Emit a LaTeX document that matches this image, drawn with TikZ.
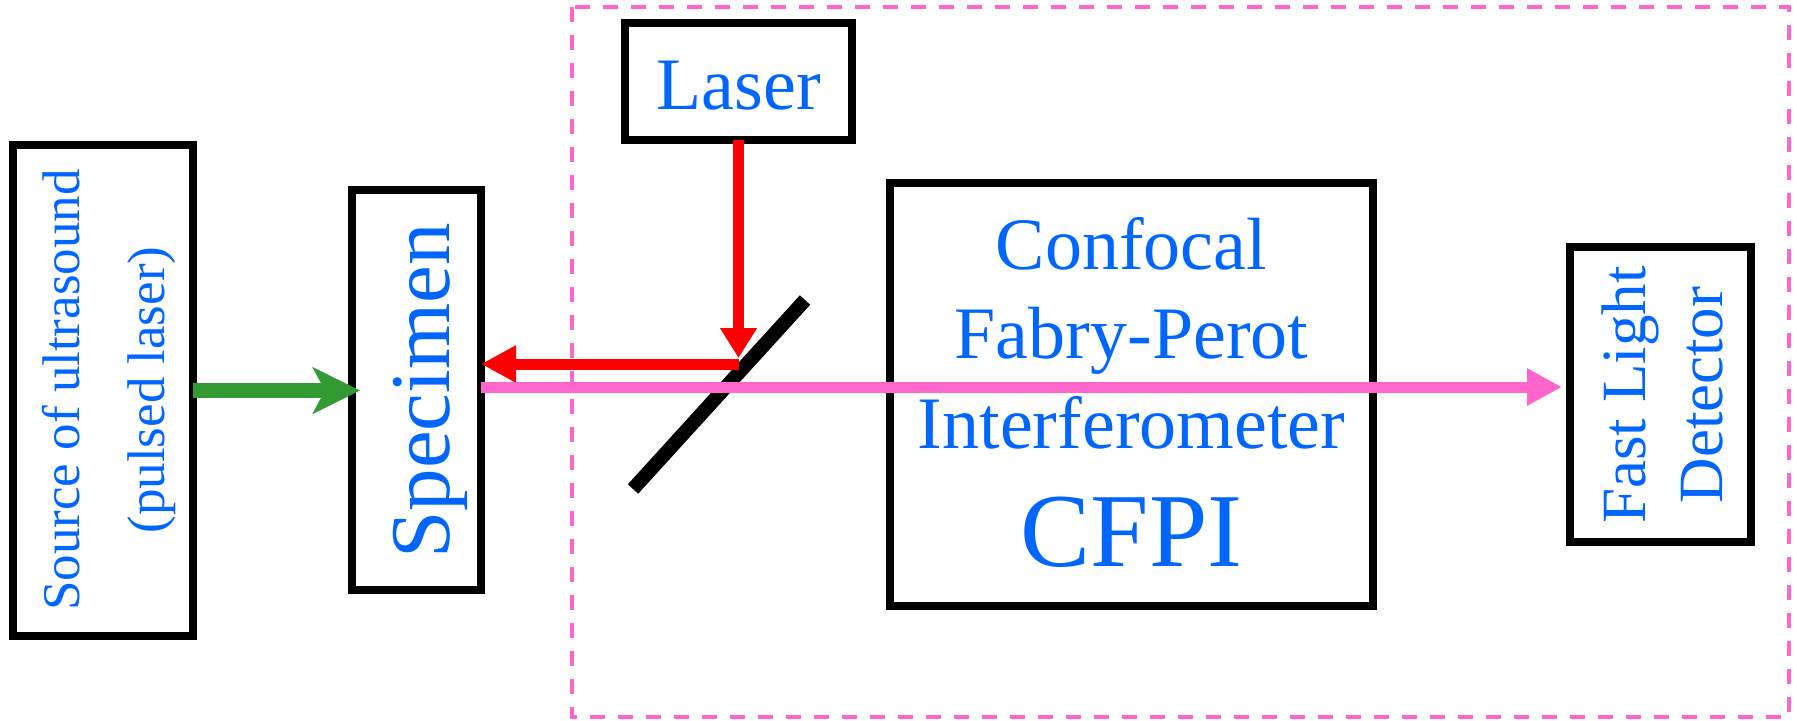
\documentclass[tikz,border=0pt]{standalone}
\usepackage{fontspec}
\setmainfont{Liberation Serif}
\usetikzlibrary{arrows.meta}
\definecolor{txtblue}{RGB}{0,102,255}
\definecolor{beampink}{RGB}{255,102,204}
\definecolor{pumpgreen}{RGB}{51,153,51}
\definecolor{laserred}{RGB}{255,0,0}

\begin{document}
\begin{tikzpicture}[x=0.5pt,y=-0.5pt,
  box/.style={draw=black, line width=4pt, inner sep=0pt, outer sep=0pt},
  lbl/.style={text=txtblue, inner sep=0pt, align=center},
  beam/.style={line width=5.5pt},
  headtip/.style={-{Triangle[length=17.5pt,width=17.5pt]}},
  dashbox/.style={draw=beampink, line width=2pt, dash pattern=on 7.5pt off 6.5pt}]

\useasboundingbox (0,0) rectangle (1797,720);

% instrument boxes
\node[box, minimum width=90pt,   minimum height=245.5pt] (src)   at (103,390.5)    {};
\node[box, minimum width=64.5pt, minimum height=200pt]   (spec)  at (416.5,390)    {};
\node[box, minimum width=113.5pt,minimum height=58.5pt]  (laser) at (738.5,81.5)   {};
\node[box, minimum width=241.5pt,minimum height=211.5pt] (cfpi)  at (1131.5,394.5) {};
\node[box, minimum width=90.5pt, minimum height=147.5pt] (det)   at (1660.5,394.5) {};

% box labels
\node[lbl, rotate=90, font=\fontsize{26.5}{42.5}\selectfont] (srctxt) at (109,390) {Source of ultrasound\\(pulsed laser)};
\node[lbl, rotate=90, font=\fontsize{42.5}{51}\selectfont] (spectxt) at (430,391) {Specimen};
\node[lbl, font=\fontsize{37}{44}\selectfont] (lasertxt) at (738.5,85.5) {Laser};
\node[lbl, font=\fontsize{37}{44.75}\selectfont] (cfpitxt) at (1131.5,333.25) {Confocal\\Fabry-Perot\\Interferometer};
\node[lbl, font=\fontsize{52.5}{63}\selectfont] (cfpiabbr) at (1131.5,532) {CFPI};
\node[lbl, rotate=90, font=\fontsize{31.5}{38.5}\selectfont] (dettxt) at (1662,395) {Fast Light\\Detector};

% beam splitter
\coordinate (m1) at (633,489);
\coordinate (m2) at (805,300);
\draw[line width=7pt] (m1) -- (m2);

% beams
\coordinate (bs) at (738.5,364);
\coordinate (pk) at (1131.5,387);
\draw[pumpgreen, line width=7.5pt, -{Stealth[length=23.5pt,width=23pt,inset=6pt]}, shorten >=-4pt]
  (src.east) -- (spec.west |- src.east);
\draw[laserred, line width=5.75pt, -{Triangle[length=15pt,width=17.5pt]}, shorten >=3pt]
  (laser.south) -- (bs);
\draw[laserred, beam, headtip] (bs) -- (spec.east |- bs);
\draw[beampink, beam, headtip, shorten >=4pt] (spec.east |- pk) -- (det.west |- pk);

% interferometer enclosure
\draw[dashbox] (572,7) rectangle (1789,717);
\end{tikzpicture}
\end{document}
